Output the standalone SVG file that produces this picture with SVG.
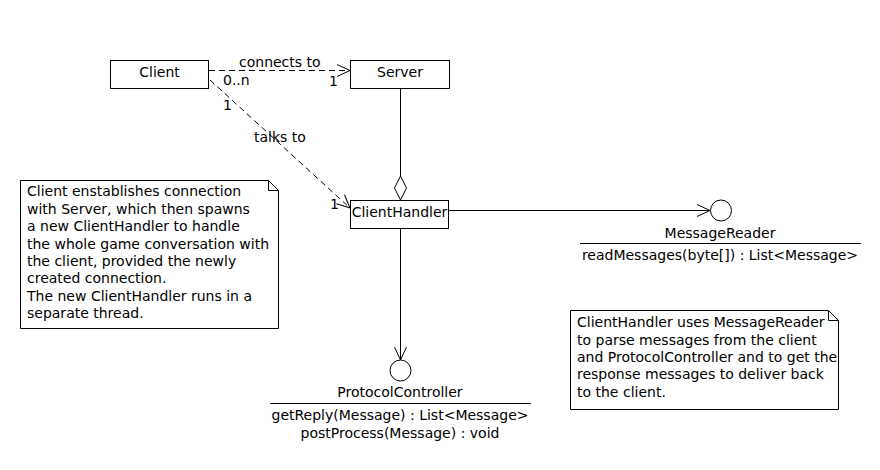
<svg xmlns="http://www.w3.org/2000/svg" width="880" height="470" viewBox="0 0 880 470">
<style>
text{font-family:"DejaVu Sans",sans-serif;font-size:14px;fill:#000}
.box{fill:#fff;stroke:#000;stroke-width:1}
.ln{fill:none;stroke:#000;stroke-width:1}
.dash{stroke-dasharray:6,4}
.c{text-anchor:middle}
</style>
<defs>
<marker id="open" markerWidth="16" markerHeight="14" refX="14" refY="7" orient="auto" markerUnits="userSpaceOnUse">
<path d="M1,1 L14,7 L1,13" fill="none" stroke="#000" stroke-width="1"/>
</marker>
</defs>
<rect width="880" height="470" fill="#fff"/>
<g id="connectors">
<line class="ln dash" x1="209" y1="70.5" x2="350" y2="70.5" marker-end="url(#open)"/>
<text x="239" y="67">connects to</text>
<text x="223" y="85">0..n</text>
<text x="329" y="86">1</text>
<line class="ln dash" x1="210" y1="80" x2="350" y2="208" marker-end="url(#open)"/>
<text x="223" y="110">1</text>
<text x="254" y="142">talks to</text>
<text x="330" y="209">1</text>
<line class="ln" x1="400.5" y1="89" x2="400.5" y2="176"/>
<path class="ln" d="M400.5,176 L406.5,188 L400.5,200 L394.5,188 Z" fill="#fff"/>
<line class="ln" x1="449" y1="210.5" x2="710" y2="210.5" marker-end="url(#open)"/>
<line class="ln" x1="400.5" y1="229" x2="400.5" y2="360" marker-end="url(#open)"/>
</g>
<g id="Client">
<rect class="box" x="110.5" y="60.5" width="98" height="28"/>
<text class="c" x="159.5" y="77">Client</text>
</g>
<g id="Server">
<rect class="box" x="350.5" y="60.5" width="99" height="28"/>
<text class="c" x="400" y="77">Server</text>
</g>
<g id="ClientHandler">
<rect class="box" x="350.5" y="200.5" width="98" height="28"/>
<text class="c" x="399.5" y="217">ClientHandler</text>
</g>
<g id="MessageReader">
<circle class="box" cx="721" cy="210.5" r="10.5"/>
<text class="c" x="720" y="238">MessageReader</text>
<line class="ln" x1="580" y1="243.5" x2="861" y2="243.5"/>
<text class="c" x="720" y="260">readMessages(byte[]) : List&lt;Message&gt;</text>
</g>
<g id="ProtocolController">
<circle class="box" cx="400.5" cy="370.5" r="10.5"/>
<text class="c" x="400" y="397">ProtocolController</text>
<line class="ln" x1="270" y1="403.5" x2="531" y2="403.5"/>
<text class="c" x="400" y="420">getReply(Message) : List&lt;Message&gt;</text>
<text class="c" x="400" y="438">postProcess(Message) : void</text>
</g>
<g id="note1">
<path class="box" d="M20.5,180.5 H268.5 L278.5,190.5 V328.5 H20.5 Z"/>
<path class="ln" d="M268.5,180.5 V190.5 H278.5"/>
<text x="27" y="196">Client enstablishes connection</text>
<text x="27" y="214">with Server, which then spawns</text>
<text x="27" y="231">a new ClientHandler to handle</text>
<text x="27" y="249">the whole game conversation with</text>
<text x="27" y="266">the client, provided the newly</text>
<text x="27" y="283">created connection.</text>
<text x="27" y="301">The new ClientHandler runs in a</text>
<text x="27" y="318">separate thread.</text>
</g>
<g id="note2">
<path class="box" d="M570.5,310.5 H828.5 L838.5,320.5 V409.5 H570.5 Z"/>
<path class="ln" d="M828.5,310.5 V320.5 H838.5"/>
<text x="577" y="327">ClientHandler uses MessageReader</text>
<text x="577" y="345">to parse messages from the client</text>
<text x="577" y="362">and ProtocolController and to get the</text>
<text x="577" y="379">response messages to deliver back</text>
<text x="577" y="397">to the client.</text>
</g>
</svg>
